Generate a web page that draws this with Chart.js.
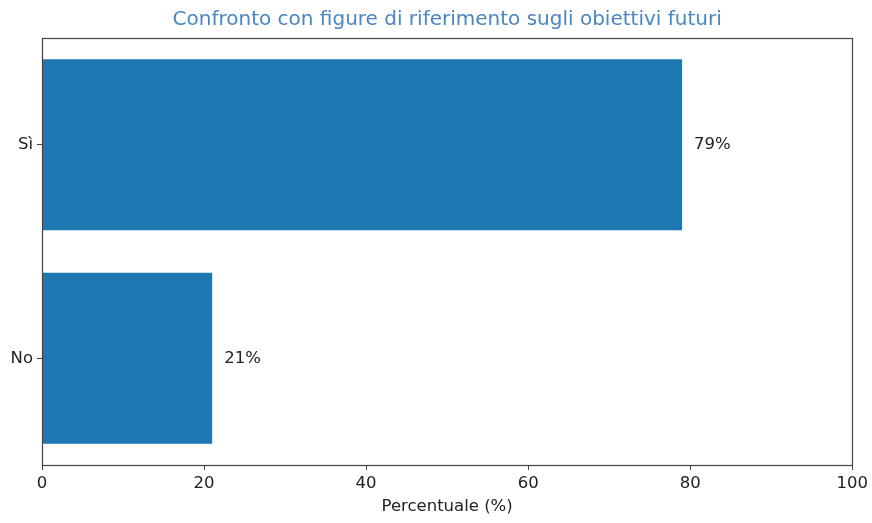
<!DOCTYPE html>
<html><head><meta charset="utf-8">
<script src="https://cdn.jsdelivr.net/npm/chart.js@4/dist/chart.umd.min.js"></script>
<style>html,body{margin:0;padding:0;background:#fff}#w{width:872px;height:523px}</style>
</head><body><div id="w"><canvas id="c"></canvas></div>
<script>
const categories = ["Sì", "No"];
const values = [79, 21];
const xTicks = [0, 20, 40, 60, 80, 100];
const titleText = "Confronto con figure di riferimento sugli obiettivi futuri";
const xLabel = "Percentuale (%)";

const FONT = "'DejaVu Sans', sans-serif";
const boxPlugin = {
  id: 'box',
  afterDatasetsDraw(chart) {
    const {ctx, chartArea: a} = chart;
    ctx.save();
    ctx.strokeStyle = '#444';
    ctx.lineWidth = 1.2;
    ctx.strokeRect(Math.round(a.left) + 0.5, Math.round(a.top) + 0.5, Math.round(a.right - a.left), Math.round(a.bottom - a.top));
    // title centred over the plot area (as in the reference)
    ctx.fillStyle = '#4a86c0';
    ctx.font = "20px " + FONT;
    ctx.textAlign = 'center';
    ctx.textBaseline = 'middle';
    ctx.fillText(titleText, (a.left + a.right) / 2, a.top - 18);
    // value labels
    ctx.fillStyle = '#222';
    ctx.font = "16.5px " + FONT;
    ctx.textAlign = 'left';
    const meta = chart.getDatasetMeta(0);
    meta.data.forEach((bar, i) => {
      ctx.fillText(values[i] + '%', bar.x + 12, bar.y);
    });
    ctx.restore();
  }
};

new Chart(document.getElementById('c'), {
  type: 'bar',
  data: {
    labels: categories,
    datasets: [{
      data: values,
      backgroundColor: '#1f77b4',
      borderWidth: 0,
      barPercentage: 0.8,
      categoryPercentage: 1.0
    }]
  },
  options: {
    indexAxis: 'y',
    responsive: true,
    maintainAspectRatio: false,
    animation: false,
    layout: { padding: { left: 0, right: 19, top: 38, bottom: 0 } },
    plugins: {
      legend: { display: false },
      tooltip: { enabled: false },
      title: { display: false }
    },
    scales: {
      x: {
        type: 'linear',
        min: 0, max: 100,
        afterBuildTicks(axis) { axis.ticks = xTicks.map(v => ({ value: v })); },
        afterFit(axis) { axis.height = 58; },
        grid: { display: true, drawOnChartArea: false, drawTicks: true, tickLength: 5, color: '#444' },
        border: { display: false },
        ticks: { color: '#222', font: { family: FONT, size: 16.5 }, padding: 4, maxRotation: 0 },
        title: { display: true, text: xLabel, color: '#222', font: { family: FONT, size: 16.5 }, padding: { top: 1, bottom: 6 } }
      },
      y: {
        type: 'category',
        offset: true,
        afterFit(axis) { axis.width = 42; },
        grid: { display: true, offset: false, drawOnChartArea: false, drawTicks: true, tickLength: 5, color: '#444' },
        border: { display: false },
        ticks: { color: '#222', font: { family: FONT, size: 16.5 }, padding: 4 }
      }
    }
  },
  plugins: [boxPlugin]
});
</script>
</body></html>
